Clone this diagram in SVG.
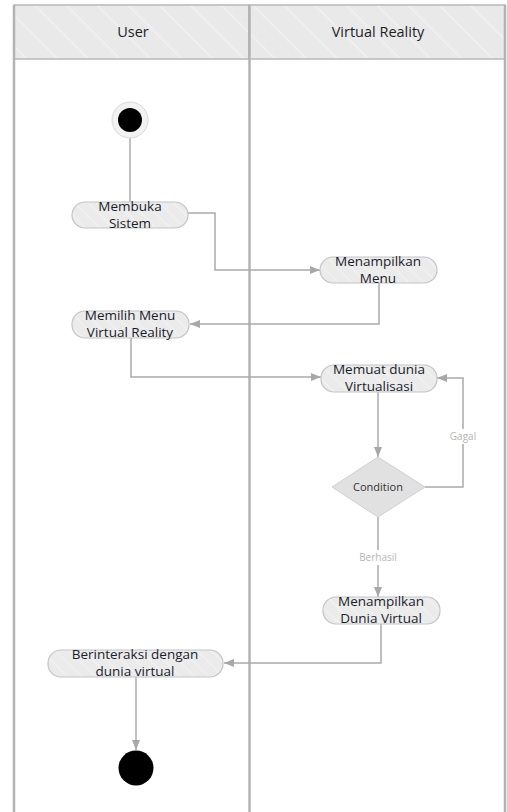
<svg xmlns="http://www.w3.org/2000/svg" width="507" height="812" viewBox="0 0 507 812">
<style>
.lane{fill:none;stroke:#b3b3b3;stroke-width:2.5}
.hdr{fill:url(#hatch);stroke:#b8b8b8;stroke-width:1.5}
.hdrt{font-family:"Open Sans","Noto Sans",sans-serif;font-size:14.5px;fill:#1e1e28;text-anchor:middle}
.act{fill:url(#hatch2);stroke:#c4c4c4;stroke-width:1.2}
.t{font-family:"Open Sans","Noto Sans",sans-serif;font-size:13.5px;fill:#1a1c2c;text-anchor:middle}
.c{fill:none;stroke:#ababab;stroke-width:1.5}
.ca{fill:none;stroke:#ababab;stroke-width:1.5;marker-end:url(#arr)}
.lbl{font-family:"Open Sans","Noto Sans",sans-serif;font-size:10px;fill:#b5b5b5;text-anchor:middle}
.cond{font-family:"Open Sans","Noto Sans",sans-serif;font-size:11px;fill:#333;text-anchor:middle}
</style>
<defs>
<pattern id="hatch" patternUnits="userSpaceOnUse" width="22" height="22" patternTransform="rotate(45)">
<rect width="22" height="22" fill="#e9e9e9"/>
<rect width="22" height="2" fill="#efefef"/>
</pattern>
<pattern id="hatch2" patternUnits="userSpaceOnUse" width="10" height="10" patternTransform="rotate(45)">
<rect width="10" height="10" fill="#ebebeb"/>
<rect width="10" height="1.5" fill="#f1f1f1"/>
</pattern>
<marker id="arr" markerUnits="userSpaceOnUse" markerWidth="10" markerHeight="10" viewBox="0 0 10 10" refX="10" refY="5" orient="auto">
<path d="M0,1 L10,5 L0,9 Z" fill="#a8a8a8"/>
</marker>
</defs>
<rect width="507" height="812" fill="#fff"/>
<g id="swimlanes">
<rect class="hdr" x="14" y="5" width="235" height="54"/>
<rect class="hdr" x="249" y="5" width="256" height="54"/>
<line class="lane" x1="14" y1="5" x2="14" y2="812"/>
<line class="lane" x1="249.5" y1="5" x2="249.5" y2="812"/>
<line class="lane" x1="505" y1="5" x2="505" y2="812"/>
<text class="hdrt" x="133" y="37">User</text>
<text class="hdrt" x="378" y="37">Virtual Reality</text>
</g>
<g id="connectors">
<path class="c" d="M130,138 V202"/>
<path class="ca" d="M188,213 H215 V270 H320"/>
<path class="ca" d="M379,283 V324 H190"/>
<path class="ca" d="M131,338 V377 H321"/>
<path class="ca" d="M378,392 V457"/>
<path class="ca" d="M425,487 H463 V378 H437"/>
<path class="ca" d="M378,517 V597"/>
<path class="ca" d="M381,624 V663 H224"/>
<path class="ca" d="M136,677 V750"/>
<rect x="445" y="429" width="36" height="15" fill="#fff"/>
<text class="lbl" x="463" y="440">Gagal</text>
<rect x="356" y="550" width="44" height="15" fill="#fff"/>
<text class="lbl" x="378" y="561">Berhasil</text>
</g>
<g id="start">
<circle cx="130" cy="120" r="18" fill="#f2f2f2" stroke="#d9d9d9" stroke-width="1"/>
<circle cx="130" cy="120" r="12" fill="#000"/>
</g>
<g id="membuka-sistem">
<rect class="act" x="72" y="202" width="116" height="26" rx="13"/>
<text class="t" x="130" y="211">Membuka</text>
<text class="t" x="130" y="228">Sistem</text>
</g>
<g id="menampilkan-menu">
<rect class="act" x="320" y="257" width="117" height="26" rx="13"/>
<text class="t" x="378" y="266">Menampilkan</text>
<text class="t" x="378" y="283">Menu</text>
</g>
<g id="memilih-menu">
<rect class="act" x="72" y="311" width="117" height="27" rx="13"/>
<text class="t" x="130" y="320">Memilih Menu</text>
<text class="t" x="130" y="337">Virtual Reality</text>
</g>
<g id="memuat-dunia">
<rect class="act" x="321" y="365" width="116" height="27" rx="13"/>
<text class="t" x="379" y="374">Memuat dunia</text>
<text class="t" x="379" y="391">Virtualisasi</text>
</g>
<g id="condition">
<path d="M378,457 L425,487 L378,517 L332,487 Z" fill="#e1e1e1" stroke="#d0d0d0" stroke-width="1"/>
<text class="cond" x="378" y="491">Condition</text>
</g>
<g id="menampilkan-dunia">
<rect class="act" x="323" y="597" width="117" height="27" rx="13"/>
<text class="t" x="381" y="606">Menampilkan</text>
<text class="t" x="381" y="623">Dunia Virtual</text>
</g>
<g id="berinteraksi">
<rect class="act" x="48" y="650" width="175" height="27" rx="13"/>
<text class="t" x="135" y="659">Berinteraksi dengan</text>
<text class="t" x="135" y="676">dunia virtual</text>
</g>
<g id="end">
<circle cx="136" cy="768" r="17.5" fill="#000"/>
</g>
</svg>
